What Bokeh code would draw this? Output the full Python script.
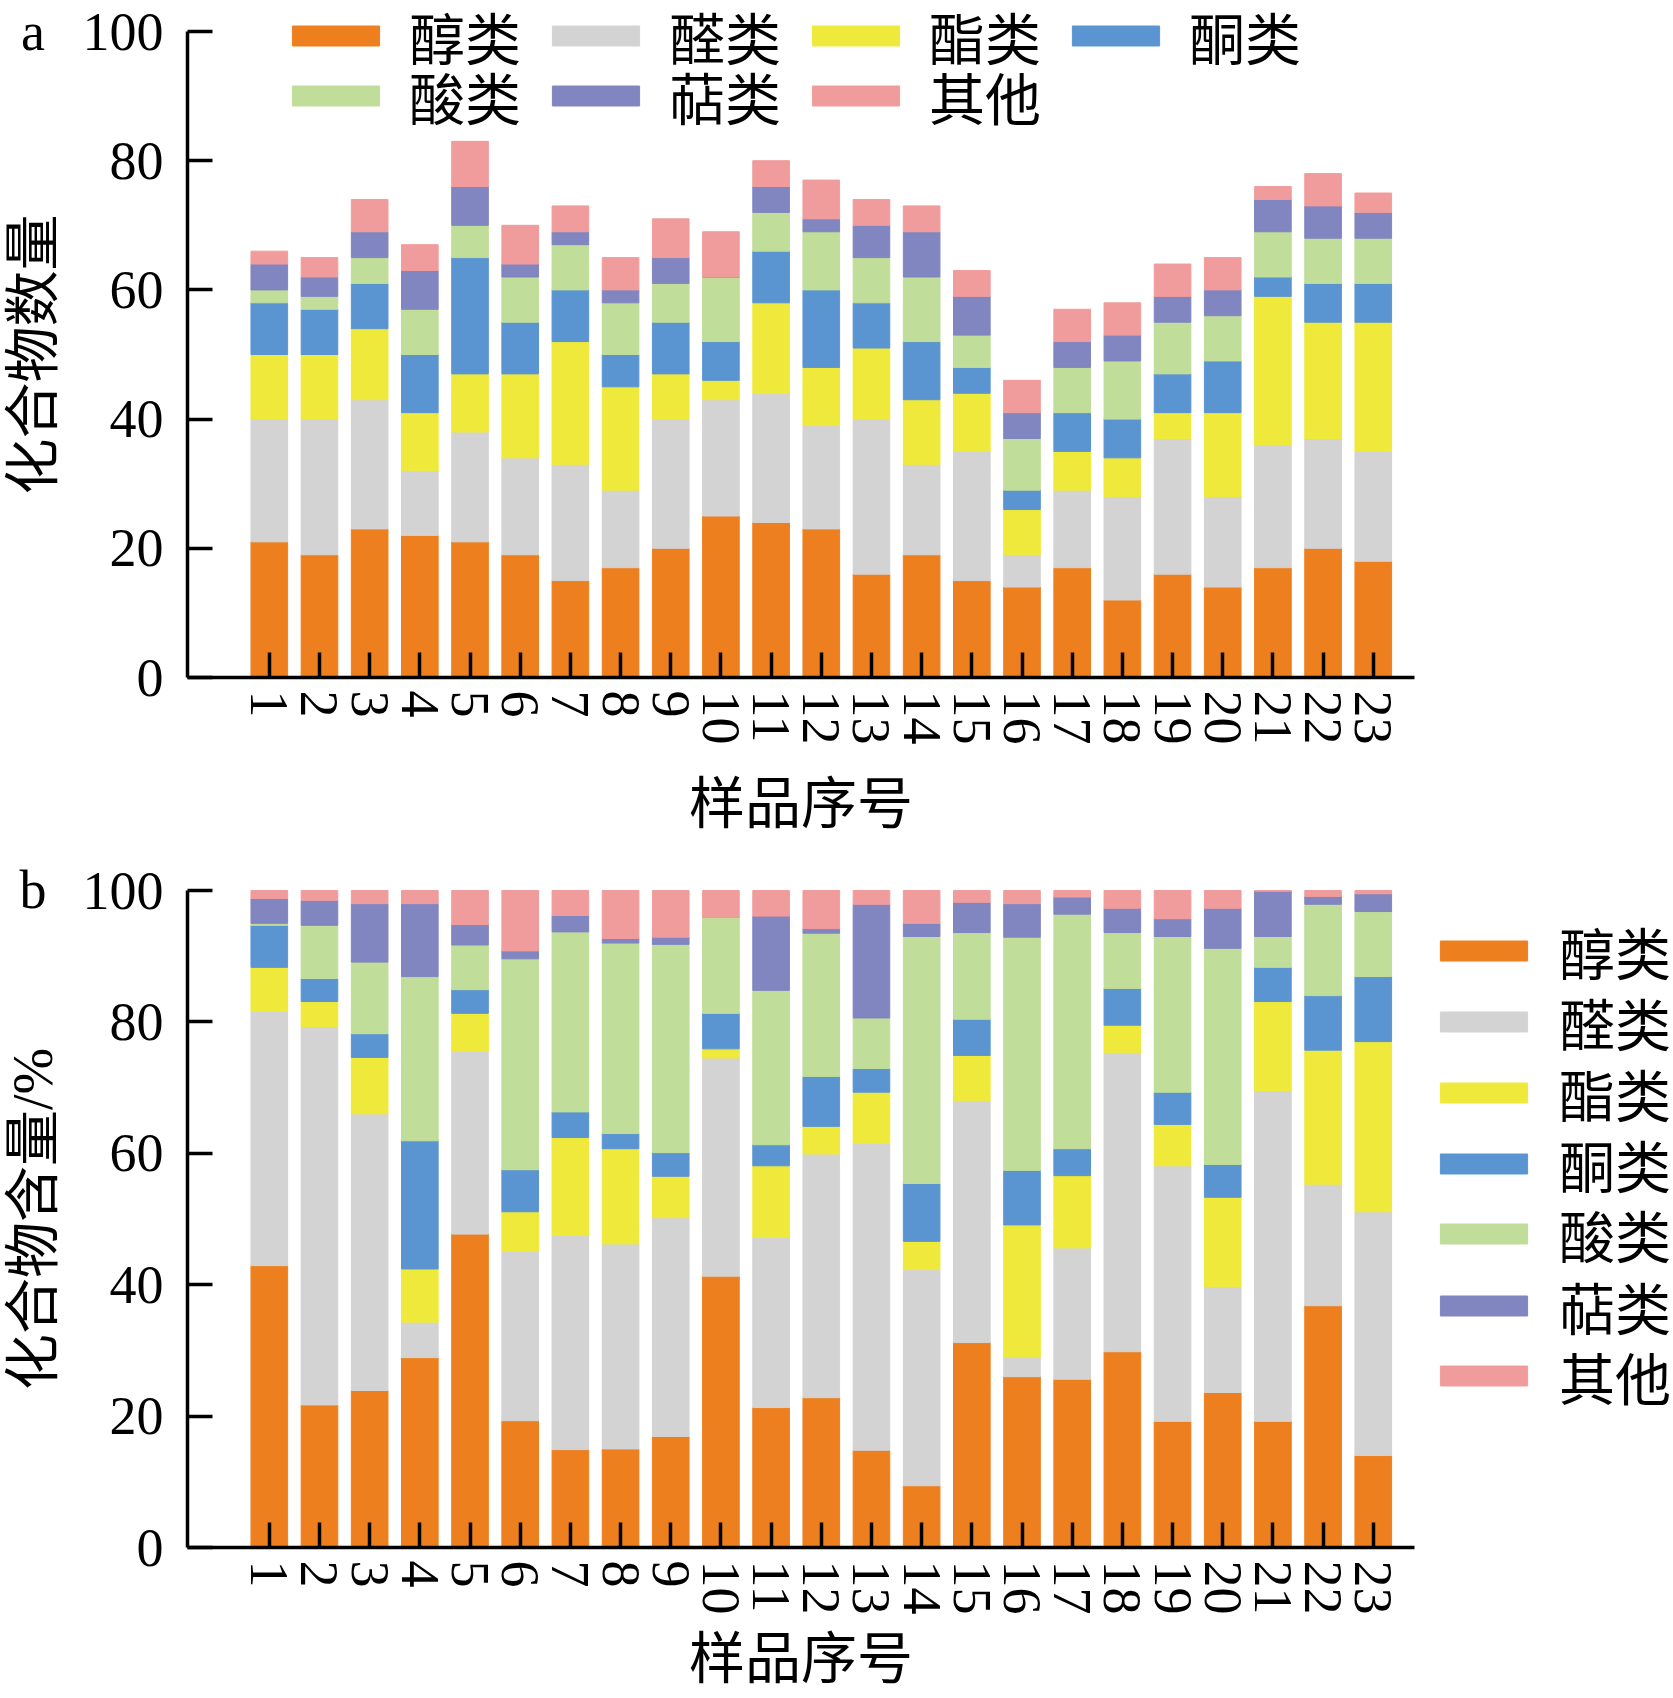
from bokeh.plotting import figure
from bokeh.models import Range1d, FixedTicker, Legend, LegendItem, Label, ColumnDataSource
from bokeh.layouts import column
from bokeh.embed import file_html
from bokeh.resources import INLINE

# ---------------- data ----------------
samples = list(range(1, 24))
categories = ["醇类", "醛类", "酯类", "酮类", "酸类", "萜类", "其他"]
colors = ["#EE7F1F", "#D3D3D3", "#EFE93B", "#5B95D1", "#C0DD99", "#8185C0", "#F09C9C"]

# (a) number of compounds
alcohols_n = [21, 19, 23, 22, 21, 19, 15, 17, 20, 25, 24, 23, 16, 19, 15, 14, 17, 12, 16, 14, 17, 20, 18]
aldehydes_n = [19, 21, 20, 10, 17, 15, 18, 12, 20, 18, 20, 16, 24, 14, 20, 5, 12, 16, 21, 14, 19, 17, 17]
esters_n = [10, 10, 11, 9, 9, 13, 19, 16, 7, 3, 14, 9, 11, 10, 9, 7, 6, 6, 4, 13, 23, 18, 20]
ketones_n = [8, 7, 7, 9, 18, 8, 8, 5, 8, 6, 8, 12, 7, 9, 4, 3, 6, 6, 6, 8, 3, 6, 6]
acids_n = [2, 2, 4, 7, 5, 7, 7, 8, 6, 10, 6, 9, 7, 10, 5, 8, 7, 9, 8, 7, 7, 7, 7]
terpenes_n = [4, 3, 4, 6, 6, 2, 2, 2, 4, 0, 4, 2, 5, 7, 6, 4, 4, 4, 4, 4, 5, 5, 4]
others_n = [2, 3, 5, 4, 7, 6, 4, 5, 6, 7, 4, 6, 4, 4, 4, 5, 5, 5, 5, 5, 2, 5, 3]

# (b) relative content, %
alcohols_p = [42.9, 21.7, 23.9, 28.9, 47.7, 19.3, 14.9, 15.0, 16.9, 41.3, 21.3, 22.8, 14.8, 9.4, 31.2, 26.0, 25.6, 29.8, 19.2, 23.6, 19.2, 36.8, 14.0]
aldehydes_p = [38.7, 57.6, 42.1, 5.4, 27.8, 25.8, 32.6, 31.2, 33.3, 33.2, 25.9, 37.1, 46.7, 32.9, 36.8, 3.0, 20.0, 45.5, 38.9, 16.1, 50.3, 18.5, 37.1]
esters_p = [6.7, 3.8, 8.6, 8.1, 5.8, 6.0, 14.9, 14.5, 6.3, 1.4, 10.9, 4.2, 7.8, 4.3, 6.9, 20.1, 11.0, 4.2, 6.3, 13.6, 13.6, 20.4, 25.9]
ketones_p = [6.4, 3.5, 3.6, 19.5, 3.6, 6.4, 3.9, 2.3, 3.6, 5.4, 3.2, 7.6, 3.6, 8.8, 5.5, 8.3, 4.1, 5.6, 4.9, 5.0, 5.2, 8.3, 9.9]
acids_p = [0.3, 8.1, 10.9, 25.0, 6.8, 32.1, 27.4, 29.0, 31.7, 14.6, 23.5, 21.8, 7.7, 37.6, 13.2, 35.5, 35.7, 8.5, 23.7, 32.9, 4.7, 13.9, 9.9]
terpenes_p = [3.8, 3.8, 8.9, 11.1, 3.1, 1.2, 2.5, 0.7, 1.1, 0.0, 11.3, 0.7, 17.3, 2.0, 4.6, 5.1, 2.6, 3.7, 2.7, 6.1, 6.9, 1.2, 2.7]
others_p = [1.2, 1.5, 2.0, 2.0, 5.2, 9.2, 3.8, 7.3, 7.1, 4.1, 3.9, 5.8, 2.1, 5.0, 1.8, 2.0, 1.0, 2.7, 4.3, 2.7, 0.1, 0.9, 0.5]

y_ticks = [0, 20, 40, 60, 80, 100]
keys = ["alcohols", "aldehydes", "esters", "ketones", "acids", "terpenes", "others"]

# Latin serif first, CJK glyphs fall back to Noto Sans CJK SC
CJK = "Liberation Serif, Noto Sans CJK SC"
NUM = "Liberation Serif"

X0, X1 = -0.63, 23.82          # extent of the drawn x axis
XR = (-4.3566, 28.983)         # whole canvas width in data units


def make_chart(series, height, yr, ylabel, panel_letter, xlabel_standoff):
    data = {"x": samples}
    for k, s in zip(keys, series):
        data[k] = s
    src = ColumnDataSource(data)
    p = figure(width=1673, height=height,
               x_range=Range1d(*XR), y_range=Range1d(*yr),
               output_backend="svg", toolbar_location=None,
               min_border=0, min_border_left=0, min_border_right=0,
               min_border_top=0, min_border_bottom=0)
    p.outline_line_color = None
    p.xgrid.visible = False
    p.ygrid.visible = False
    rends = p.vbar_stack(keys, x="x", width=0.73, color=colors, source=src)

    for ax in (p.xaxis[0], p.yaxis[0]):
        ax.axis_line_width = 3.5
        ax.major_tick_line_width = 3.5
        ax.major_tick_in = 25
        ax.major_tick_out = 0
        ax.minor_tick_line_color = None
        ax.major_label_text_font = NUM
        ax.major_label_text_font_size = "54px"
        ax.axis_label_text_font = CJK
        ax.axis_label_text_font_size = "56px"
        ax.axis_label_text_font_style = "normal"
        ax.axis_label_text_color = "black"
        ax.major_label_text_color = "black"

    xa = p.xaxis[0]
    xa.fixed_location = 0
    xa.bounds = (X0, X1)
    xa.ticker = FixedTicker(ticks=samples, minor_ticks=[])
    xa.major_label_orientation = "vertical"
    xa.major_label_standoff = 13
    xa.axis_label = "样品序号"
    xa.axis_label_standoff = xlabel_standoff

    ya = p.yaxis[0]
    ya.fixed_location = X0
    ya.bounds = (0, 100)
    ya.ticker = FixedTicker(ticks=y_ticks, minor_ticks=[])
    ya.major_label_standoff = 24
    ya.axis_label = ylabel
    ya.axis_label_standoff = 16

    p.add_layout(Label(x=-3.71, y=100, text=panel_letter, text_align="center",
                       text_baseline="middle", text_font=NUM,
                       text_font_size="54px", text_color="black"))
    items = [LegendItem(label=c, renderers=[r]) for c, r in zip(categories, rends)]
    return p, items


def add_legend(p, items, orientation, loc, standoff):
    leg = Legend(items=items, orientation=orientation, location=loc, spacing=20)
    leg.glyph_width = 109      # drawn swatch is 80 % of this
    leg.glyph_height = 25
    leg.label_standoff = standoff
    leg.padding = 0
    leg.margin = 0
    leg.border_line_color = None
    leg.background_fill_alpha = 0
    leg.label_text_font = CJK
    leg.label_text_font_size = "56px"
    leg.label_text_color = "black"
    p.add_layout(leg)


# ----- chart a -----
pa, items_a = make_chart([alcohols_n, aldehydes_n, esters_n, ketones_n, acids_n, terpenes_n, others_n],
                         860, (-28.328, 104.799), "化合物数量", "a", 25)
add_legend(pa, items_a[:4], "horizontal", (281, 784), 19)
add_legend(pa, items_a[4:], "horizontal", (281, 724), 19)

# ----- chart b -----
pb, items_b = make_chart([alcohols_p, aldehydes_p, esters_p, ketones_p, acids_p, terpenes_p, others_p],
                         838, (-22.983, 104.566), "化合物含量/%", "b", 10)
legend_b_offsets = [707, 636, 565, 494, 424, 352, 282]
for item, vy in zip(items_b, legend_b_offsets):
    add_legend(pb, [item], "vertical", (1429, vy), 21)

layout = column(pa, pb, spacing=0)
open("out.html", "w").write(file_html(layout, INLINE))
